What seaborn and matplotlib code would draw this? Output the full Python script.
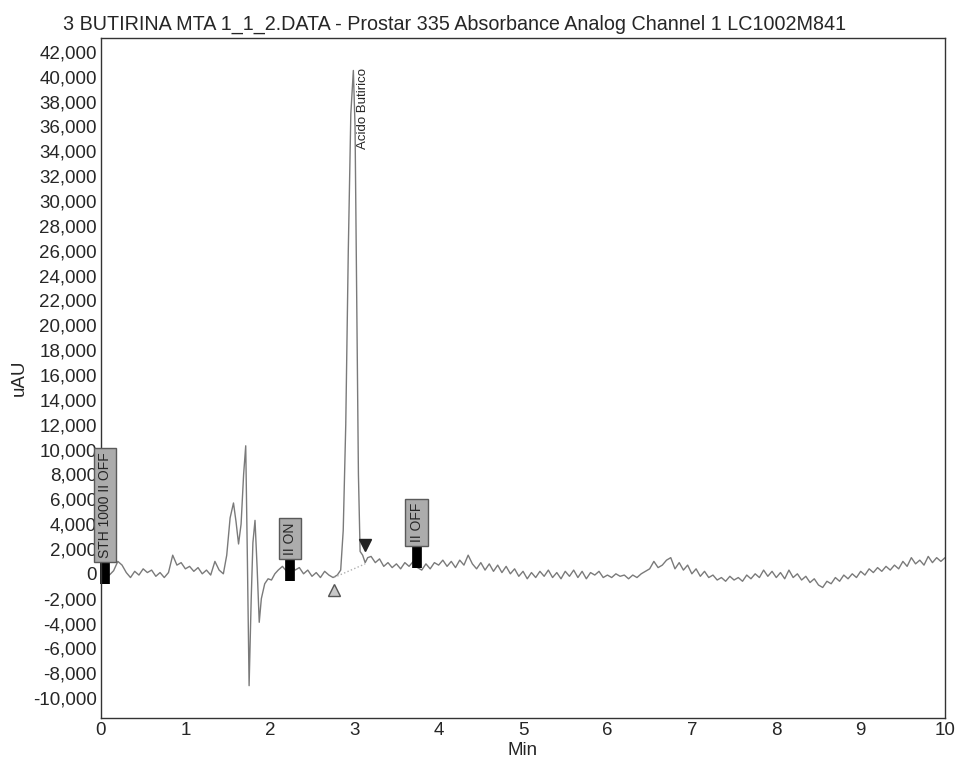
import numpy as np
import pandas as pd
import seaborn as sns
import matplotlib
matplotlib.use("Agg")
import matplotlib.pyplot as plt
from matplotlib.ticker import FuncFormatter, MultipleLocator

# trace, split in segments (Min / uAU)
pre_t = np.linspace(0.0, 1.45, 30)
pre_v = [0, 300, -100, 250, 1000, 700, 100, -300, 200, -100,
         400, 100, 300, -200, 100, -300, 100, 1500, 700, 900,
         400, 600, 200, 500, 0, 300, -100, 1000, 300, 0]

front_t = [1.49, 1.53, 1.57, 1.60, 1.63, 1.66, 1.69, 1.715, 1.735, 1.755,
           1.78, 1.80, 1.825, 1.85, 1.875, 1.90]
front_v = [1500, 4500, 5700, 4200, 2400, 4000, 8000, 10300, 1000, -9000,
           -2000, 2500, 4300, 500, -3900, -2000]

mid_t = [1.94, 1.98, 2.02, 2.06, 2.10, 2.15, 2.20, 2.25, 2.30, 2.35,
         2.40, 2.45, 2.50, 2.55, 2.60, 2.65, 2.70, 2.75]
mid_v = [-800, -400, -500, 0, 300, 600, 200, 800, 300, 500,
         0, 300, -200, 100, -300, 200, -100, -300]

peak_t = [2.80, 2.84, 2.87, 2.90, 2.93, 2.96, 2.99, 3.01, 3.03, 3.05,
          3.07, 3.10, 3.13, 3.16]
peak_v = [-100, 300, 3500, 12000, 26000, 37000, 40500, 36000, 22000, 8000,
          1800, 1500, 900, 1300]

tail_t = np.linspace(3.20, 10.0, 137)
tail_v = [1400, 900, 1200, 600, 900, 500, 800, 400, 900, 600,
          1000, 500, 300, 800, 400, 900, 700, 1100, 600, 1000,
          500, 1100, 700, 1500, 800, 400, 900, 300, 800, 200,
          700, 100, 600, 0, 400, -200, 200, -400, 100, -300,
          200, -200, 300, -300, 100, -400, 200, -200, 300, -300,
          200, -400, 100, -100, 200, -300, -100, -300, 0, -200,
          -100, -400, -100, -300, 0, 200, 400, 1000, 500, 700,
          1100, 1300, 400, 900, 300, 700, 0, 400, -200, 200,
          -300, -100, -500, -300, -600, -200, -500, -300, -600, -100,
          -400, 0, -300, 300, -200, 200, -300, 100, -400, 300,
          -300, 0, -500, -200, -700, -400, -900, -1100, -600, -800,
          -300, -600, -100, -400, 0, -300, 200, -100, 400, 100,
          500, 200, 600, 300, 700, 400, 1000, 600, 1300, 800,
          1100, 700, 1400, 900, 1300, 1000, 1300]

# time events (Min), label, trace level at event
event_times = [0.05, 2.24, 3.74]
event_labels = ["STH 1000 II OFF", "II ON", "II OFF"]
event_levels = [50, 300, 1300]

# integration: peak start/end and baseline
peak_name = "Acido Butirico"
peak_apex = (3.10, 40700)
start_mark = (2.76, -1300)
end_mark = (3.13, 2300)
base_t = [2.76, 3.13]
base_v = [-300, 800]

df = pd.DataFrame({
    "Min": np.concatenate([pre_t, front_t, mid_t, peak_t, tail_t]),
    "uAU": np.concatenate([pre_v, front_v, mid_v, peak_v, tail_v]),
})

sns.set_style("white")
plt.rcParams["font.family"] = ["Liberation Sans", "DejaVu Sans"]

fig = plt.figure(figsize=(9.56, 7.63), dpi=100)
ax = fig.add_axes([0.1056, 0.059, 0.883, 0.891])

sns.lineplot(data=df, x="Min", y="uAU", ax=ax, color="#7a7a7a", linewidth=1.0,
             estimator=None, sort=False)
ax.plot(base_t, base_v, ls=":", color="#b0b0b0", lw=1)
ax.plot(*start_mark, marker="^", ms=8, mfc="#c8c8c8", mec="#555555")
ax.plot(*end_mark, marker="v", ms=8, mfc="#222222", mec="#222222")
ax.text(peak_apex[0], peak_apex[1], peak_name, rotation=90, ha="center", va="top",
        fontsize=9.5)

for t, lab, lev in zip(event_times, event_labels, event_levels):
    ax.plot([t, t], [lev - 850, lev + 850], color="black", lw=7,
            solid_capstyle="butt", clip_on=False)
    ax.text(t, lev + 1250, lab, rotation=90, ha="center", va="bottom",
            fontsize=10, clip_on=False,
            bbox=dict(boxstyle="square,pad=0.3", fc="#acacac", ec="#5a5a5a", lw=1))

ax.set_xlim(0, 10)
ax.set_ylim(-11600, 43100)
ax.xaxis.set_major_locator(MultipleLocator(1))
ax.set_yticks(np.arange(-10000, 42001, 2000))
ax.yaxis.set_major_formatter(FuncFormatter(lambda v, p: f"{int(v):,}"))
ax.tick_params(length=0, labelsize=13.5, pad=3)
for s in ax.spines.values():
    s.set_color("#333333")
    s.set_linewidth(1)

ax.set_xlabel("Min", fontsize=13.5, labelpad=2)
ax.set_ylabel("uAU", fontsize=13.5, labelpad=4)
fig.text(0.476, 0.968, "3 BUTIRINA MTA 1_1_2.DATA - Prostar 335 Absorbance Analog Channel 1 LC1002M841",
         ha="center", va="center", fontsize=14.2)

fig.savefig("out.png", dpi=100)
